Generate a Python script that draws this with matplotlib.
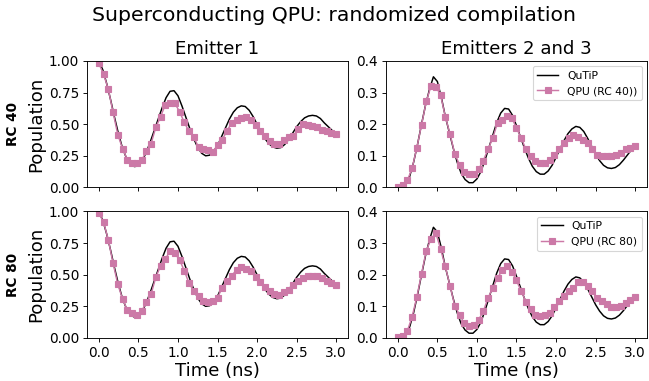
import numpy as np
import matplotlib
matplotlib.use("Agg")
import matplotlib.pyplot as plt

# time grids (ns)
t_sim = np.round(np.arange(0, 3.0001, 0.05), 2)
t_qpu = np.round(np.arange(0, 3.0001, 0.06), 2)

# QuTiP reference curves
qutip_e1 = [1.00, 0.93, 0.82, 0.69, 0.55, 0.42, 0.31, 0.23, 0.18, 0.165,
            0.17, 0.21, 0.28, 0.36, 0.45, 0.54, 0.63, 0.71, 0.76, 0.765,
            0.725, 0.645, 0.555, 0.465, 0.385, 0.315, 0.27, 0.25, 0.255, 0.285,
            0.33, 0.40, 0.47, 0.54, 0.595, 0.63, 0.645, 0.64, 0.61, 0.56,
            0.50, 0.44, 0.385, 0.345, 0.32, 0.31, 0.315, 0.34, 0.38, 0.43,
            0.48, 0.52, 0.55, 0.565, 0.57, 0.565, 0.545, 0.51, 0.48, 0.45, 0.42]
qutip_e23 = [0.0, 0.002, 0.010, 0.035, 0.08, 0.137, 0.20, 0.26, 0.31, 0.35,
             0.335, 0.285, 0.225, 0.175, 0.125, 0.08, 0.045, 0.025, 0.015, 0.015,
             0.027, 0.05, 0.085, 0.125, 0.165, 0.205, 0.235, 0.25, 0.248, 0.228,
             0.195, 0.16, 0.125, 0.093, 0.067, 0.05, 0.042, 0.042, 0.052, 0.07,
             0.095, 0.122, 0.148, 0.17, 0.185, 0.193, 0.19, 0.177, 0.155, 0.13,
             0.105, 0.085, 0.07, 0.062, 0.06, 0.063, 0.072, 0.086, 0.102, 0.118, 0.13]

# QPU results
qpu40_e1 = [0.98, 0.895, 0.777, 0.593, 0.417, 0.307, 0.22, 0.19, 0.19, 0.213,
            0.286, 0.346, 0.475, 0.559, 0.654, 0.667, 0.665, 0.60, 0.514, 0.443,
            0.40, 0.317, 0.307, 0.294, 0.283, 0.333, 0.378, 0.449, 0.509, 0.535,
            0.549, 0.557, 0.535, 0.496, 0.443, 0.404, 0.37, 0.344, 0.344, 0.375,
            0.396, 0.407, 0.465, 0.501, 0.491, 0.483, 0.475, 0.454, 0.443, 0.428, 0.425]
qpu40_e23 = [0.002, 0.009, 0.022, 0.06, 0.125, 0.198, 0.272, 0.321, 0.319, 0.293,
             0.224, 0.169, 0.106, 0.072, 0.049, 0.043, 0.043, 0.057, 0.085, 0.12,
             0.156, 0.204, 0.212, 0.225, 0.22, 0.188, 0.156, 0.12, 0.10, 0.083,
             0.076, 0.077, 0.088, 0.104, 0.122, 0.139, 0.156, 0.167, 0.16, 0.151,
             0.141, 0.12, 0.104, 0.099, 0.099, 0.099, 0.104, 0.109, 0.12, 0.125, 0.132]
qpu80_e1 = [0.986, 0.915, 0.775, 0.59, 0.424, 0.308, 0.221, 0.195, 0.182, 0.21,
            0.282, 0.345, 0.48, 0.569, 0.622, 0.688, 0.67, 0.617, 0.532, 0.432,
            0.372, 0.332, 0.295, 0.282, 0.29, 0.319, 0.398, 0.45, 0.493, 0.538,
            0.564, 0.545, 0.532, 0.485, 0.44, 0.406, 0.372, 0.345, 0.34, 0.361,
            0.379, 0.419, 0.45, 0.472, 0.488, 0.49, 0.49, 0.472, 0.45, 0.432, 0.419]
qpu80_e23 = [0.002, 0.006, 0.022, 0.066, 0.129, 0.203, 0.276, 0.313, 0.332, 0.282,
             0.226, 0.165, 0.102, 0.073, 0.047, 0.038, 0.041, 0.057, 0.084, 0.126,
             0.158, 0.19, 0.214, 0.226, 0.21, 0.182, 0.147, 0.115, 0.09, 0.072,
             0.07, 0.074, 0.08, 0.098, 0.118, 0.134, 0.15, 0.157, 0.176, 0.176,
             0.165, 0.147, 0.126, 0.116, 0.108, 0.098, 0.098, 0.102, 0.109, 0.12, 0.131]

col_titles = ["Emitter 1", "Emitters 2 and 3"]
row_labels = ["RC 40", "RC 80"]
qpu_labels = ["QPU (RC 40))", "QPU (RC 80)"]

pink = "#CC79A7"

dpi = 81.5
fig, axes = plt.subplots(2, 2, figsize=(649 / dpi, 381 / dpi), dpi=dpi, sharex=True)
fig.subplots_adjust(left=0.134, right=0.997, top=0.84, bottom=0.113,
                    wspace=0.145, hspace=0.19)

data = [[qpu40_e1, qpu40_e23], [qpu80_e1, qpu80_e23]]
sims = [qutip_e1, qutip_e23]

for r in range(2):
    for c in range(2):
        ax = axes[r, c]
        ax.plot(t_sim, sims[c], color="black", lw=1.3, label="QuTiP")
        ax.plot(t_qpu, data[r][c], color=pink, marker="s", ms=5.5, lw=1.3,
                label=qpu_labels[r])
        ax.tick_params(labelsize=12)
        if c == 0:
            ax.set_ylim(0, 1)
            ax.set_yticks([0, 0.25, 0.5, 0.75, 1.0])
            ax.set_ylabel("Population", fontsize=16, labelpad=3)
            ax.text(-0.285, 0.5, row_labels[r], transform=ax.transAxes,
                    rotation=90, ha="center", va="center",
                    fontsize=12, fontweight="bold")
        else:
            ax.set_ylim(0, 0.4)
            ax.set_yticks([0, 0.1, 0.2, 0.3, 0.4])
            ax.legend(loc="upper right", fontsize=9.5)
        if r == 0:
            ax.set_title(col_titles[c], fontsize=16)
        else:
            ax.set_xlabel("Time (ns)", fontsize=16, labelpad=2)
            ax.set_xticks([0, 0.5, 1.0, 1.5, 2.0, 2.5, 3.0])

fig.suptitle("Superconducting QPU: randomized compilation", fontsize=18,
             x=0.515, y=0.985)

fig.savefig("out.png", dpi=dpi)
